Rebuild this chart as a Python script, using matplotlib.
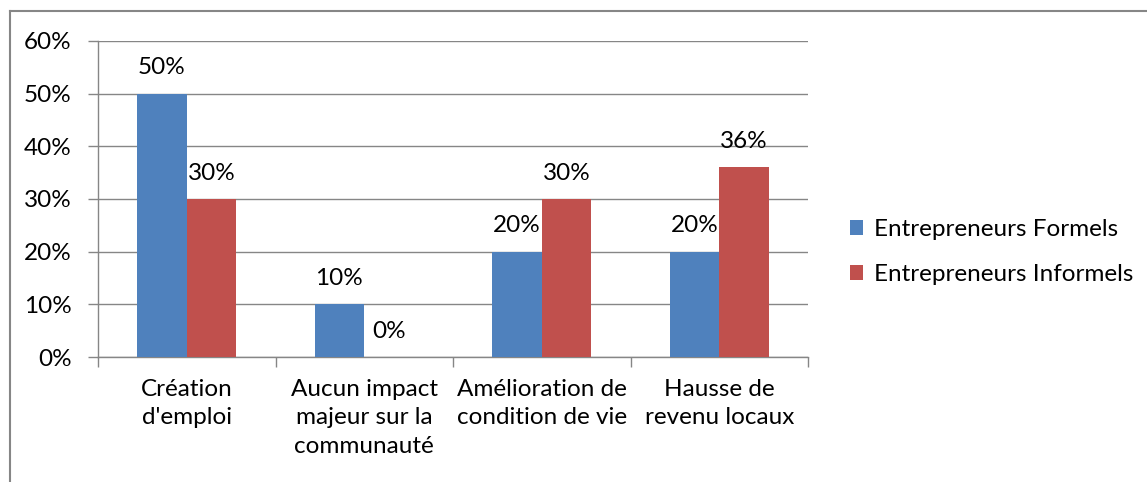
import matplotlib
matplotlib.use("Agg")
import matplotlib.pyplot as plt
from matplotlib.lines import Line2D
import numpy as np

categories = ["Création\nd'emploi", "Aucun impact\nmajeur sur la\ncommunauté",
              "Amélioration de\ncondition de vie", "Hausse de\nrevenu locaux"]
formels = [50, 10, 20, 20]
informels = [30, 0, 30, 36]
series_names = ["Entrepreneurs Formels", "Entrepreneurs Informels"]
yticks = [0, 10, 20, 30, 40, 50, 60]

blue = "#4F81BD"
red = "#C0504D"
grid = "#868686"
plt.rcParams['font.family'] = ['Lato', 'DejaVu Sans']
fs = 17.5

W, H = 1147, 482
fig = plt.figure(figsize=(W/100, H/100), dpi=100)
ax = fig.add_axes([98/W, (H-357)/H, 710/W, 316/H])

x = np.arange(len(categories))
bw = 0.28
b1 = ax.bar(x - bw/2, formels, bw, color=blue, label=series_names[0], zorder=3)
b2 = ax.bar(x + bw/2, informels, bw, color=red, label=series_names[1], zorder=3)
for bars, vals in ((b1, formels), (b2, informels)):
    for r, v in zip(bars, vals):
        ax.text(r.get_x() + r.get_width()/2, v + 4.9, f"{v}%", ha='center',
                va='center', fontsize=fs, color='black', zorder=4)

ax.set_xlim(-0.5, len(categories) - 0.5)
ax.set_ylim(0, 60)
ax.set_yticks(yticks)
ax.set_yticklabels([f"{t}%" for t in yticks], fontsize=fs)
ax.yaxis.grid(True, color=grid, linewidth=1, zorder=0)
ax.set_axisbelow(True)
ax.set_xticks(np.arange(len(categories) + 1) - 0.5)
ax.set_xticklabels([])
ax.set_xticks(x, minor=True)
ax.set_xticklabels(categories, minor=True, fontsize=fs, linespacing=1.42, va='top')
ax.tick_params(axis='x', which='minor', length=0, pad=16)
ax.tick_params(axis='x', which='major', length=7, color=grid, width=1, direction='out')
ax.tick_params(axis='y', length=7, color=grid, width=1, pad=12)
for s in ['top', 'right']:
    ax.spines[s].set_visible(False)
for s in ['left', 'bottom']:
    ax.spines[s].set_color(grid)
    ax.spines[s].set_linewidth(1)

leg = fig.legend(handles=[b1, b2], labels=series_names, loc='center left',
                 bbox_to_anchor=(828/W, 1 - 252/H), frameon=False, fontsize=fs,
                 handlelength=0.55, handleheight=0.55, handletextpad=0.45,
                 labelspacing=1.0)

# outer chart frame (left and top edges visible)
fig.add_artist(Line2D([10/W, 10/W], [0, 1 - 11/H], color=grid, lw=1.5))
fig.add_artist(Line2D([10/W, 1], [1 - 11/H, 1 - 11/H], color=grid, lw=1.5))

fig.savefig("out.png", dpi=100)
